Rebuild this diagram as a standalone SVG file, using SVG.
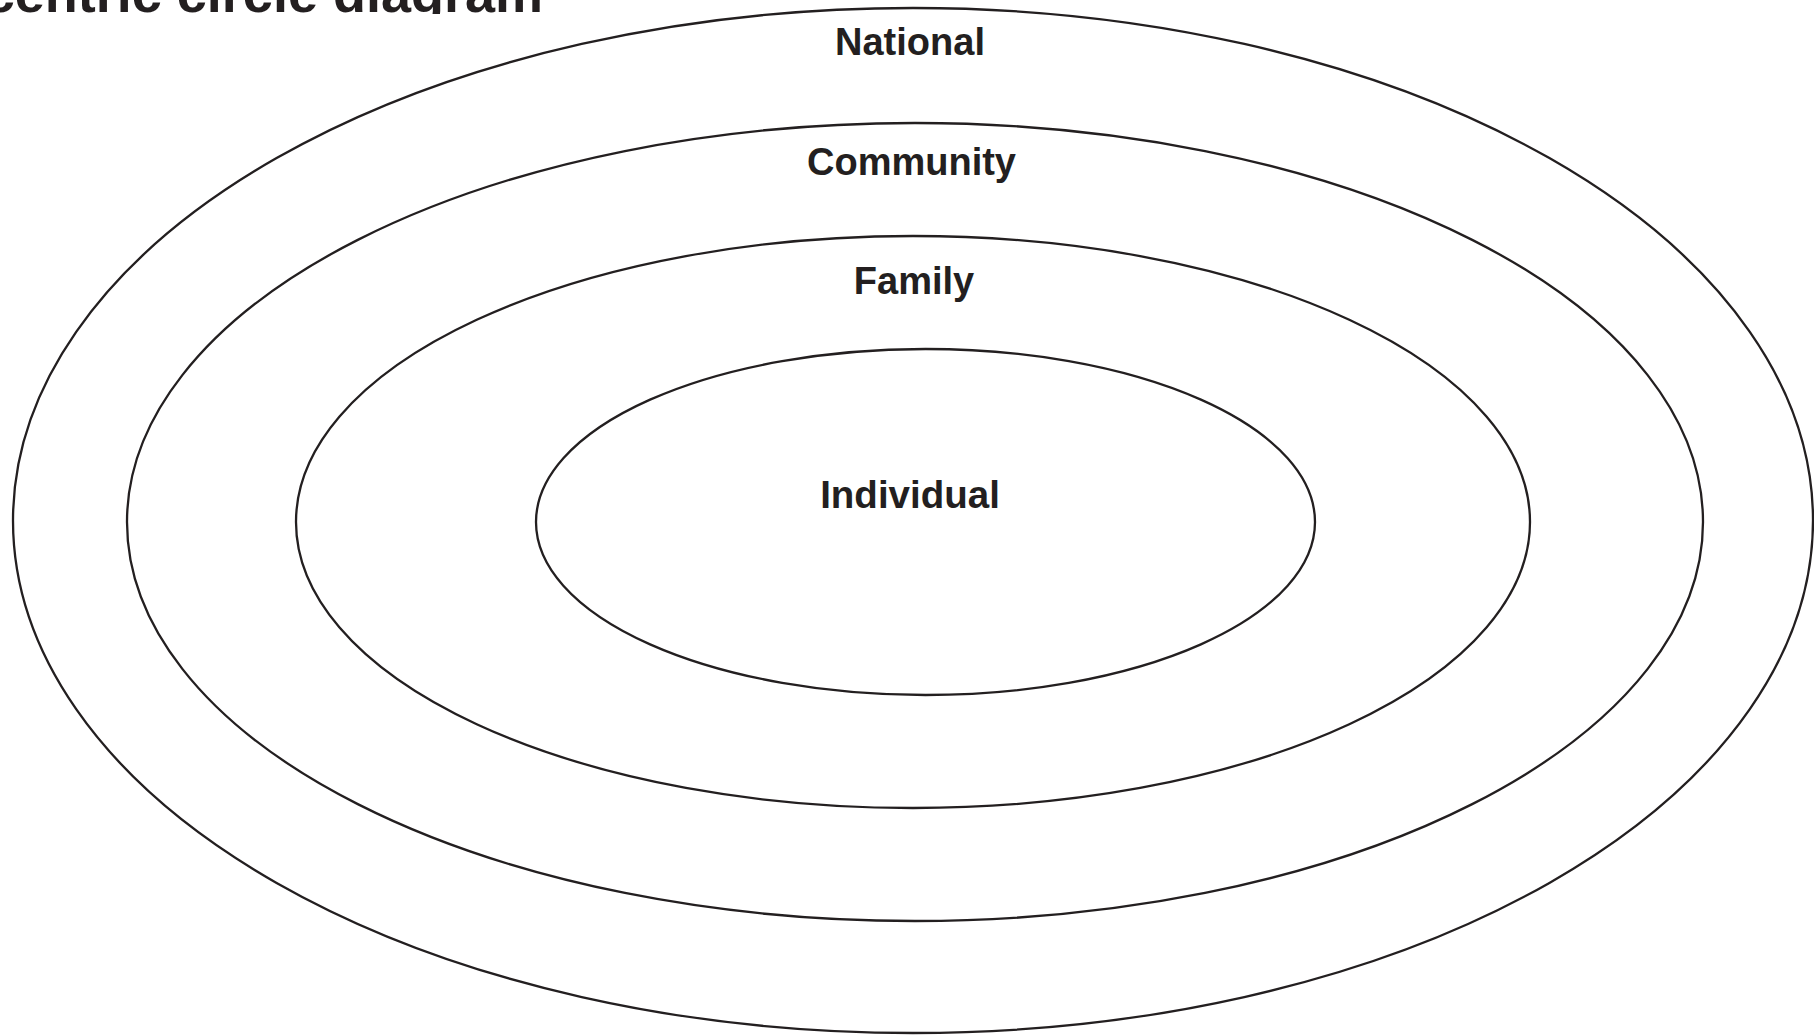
<svg xmlns="http://www.w3.org/2000/svg" width="1814" height="1035" viewBox="0 0 1814 1035">
<style>
.ring{fill:none;stroke:#231f20;stroke-width:2.3}
.lbl{font-family:"Liberation Sans",Arial,sans-serif;font-weight:bold;font-size:38px;fill:#231f20;text-anchor:middle}
.title{font-family:"Liberation Sans",Arial,sans-serif;font-weight:bold;font-size:54px;fill:#231f20;text-anchor:end}
</style>
<defs>
<clipPath id="titleClip"><rect x="-200" y="-100" width="800" height="114"/></clipPath>
</defs>
<rect width="1814" height="1035" fill="#ffffff"/>
<g id="title" clip-path="url(#titleClip)">
<text class="title" x="543" y="11.5">Concentric circle diagram</text>
</g>
<g id="national">
<ellipse class="ring" cx="913" cy="520.5" rx="900" ry="512.5"/>
<text class="lbl" x="910" y="55">National</text>
</g>
<g id="community">
<ellipse class="ring" cx="915" cy="522" rx="788" ry="399"/>
<text class="lbl" x="911.5" y="175">Community</text>
</g>
<g id="family">
<ellipse class="ring" cx="913" cy="522" rx="617" ry="286"/>
<text class="lbl" x="914" y="294">Family</text>
</g>
<g id="individual">
<ellipse class="ring" cx="925.5" cy="522" rx="389.5" ry="173"/>
<text class="lbl" x="910" y="508" style="font-size:38.5px">Individual</text>
</g>
<g id="connectors"/>
</svg>
